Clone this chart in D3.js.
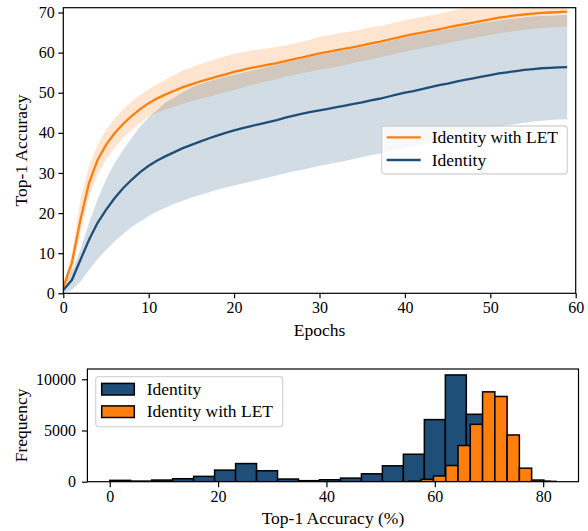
<!DOCTYPE html>
<html lang="en">
<head>
<meta charset="UTF-8" />
<title>Top-1 accuracy</title>
<script src="https://d3js.org/d3.v7.min.js"></script>
<style>
  body { margin: 0; background: #fff; }
  text { font-family: "Liberation Serif", "DejaVu Serif", serif; fill: #000; }
</style>
</head>
<body>
<div id="chart"></div>
<script>
// ---- training curves (mean and band per epoch) ----
const epochs = d3.range(60);

const letMean = [1.5, 7.5, 18.3, 27.4, 33.2, 37.0, 39.9, 42.2, 44.2, 45.9,
  47.4, 48.6, 49.6, 50.5, 51.4, 52.1, 52.8, 53.4, 54.0, 54.6,
  55.2, 55.7, 56.2, 56.6, 57.0, 57.4, 57.9, 58.4, 58.8, 59.3,
  59.8, 60.2, 60.6, 61.0, 61.4, 61.8, 62.3, 62.7, 63.2, 63.7,
  64.2, 64.6, 65.0, 65.4, 65.8, 66.3, 66.7, 67.1, 67.5, 67.9,
  68.3, 68.7, 69.0, 69.3, 69.5, 69.7, 69.9, 70.0, 70.1, 70.2];
const letUpper = [2.5, 10.0, 23.3, 31.6, 37.0, 40.7, 43.6, 45.9, 47.8, 49.5,
  50.9, 52.1, 53.3, 54.4, 55.6, 56.3, 57.1, 57.8, 58.4, 59.1,
  59.7, 60.1, 60.5, 60.8, 61.1, 61.4, 61.8, 62.3, 62.7, 63.3,
  63.9, 64.3, 64.7, 65.1, 65.4, 65.8, 66.3, 66.6, 67.1, 67.6,
  68.1, 68.5, 68.9, 69.3, 69.7, 70.2, 70.6, 71.0, 71.4, 71.8,
  72.2, 72.6, 72.9, 73.2, 73.3, 73.5, 73.7, 73.7, 73.8, 73.9];
const letLower = [0.8, 5.0, 15.0, 24.0, 29.5, 33.3, 36.2, 38.7, 40.7, 42.6,
  44.1, 45.1, 45.9, 46.6, 47.2, 47.9, 48.5, 49.0, 49.6, 50.1,
  50.7, 51.3, 51.9, 52.4, 52.9, 53.4, 54.0, 54.5, 54.9, 55.3,
  55.7, 56.1, 56.5, 56.9, 57.4, 57.8, 58.3, 58.8, 59.3, 59.8,
  60.3, 60.7, 61.1, 61.5, 61.9, 62.4, 62.8, 63.2, 63.6, 64.0,
  64.4, 64.8, 65.1, 65.4, 65.7, 65.9, 66.1, 66.3, 66.4, 66.5];

const idMean = [0.8, 3.3, 8.3, 13.3, 17.5, 20.8, 23.7, 26.2, 28.3, 30.2,
  31.8, 33.1, 34.2, 35.2, 36.2, 37.0, 37.8, 38.6, 39.3, 40.0,
  40.6, 41.2, 41.7, 42.2, 42.7, 43.2, 43.8, 44.3, 44.8, 45.2,
  45.6, 46.0, 46.4, 46.8, 47.2, 47.6, 48.1, 48.5, 49.0, 49.5,
  50.0, 50.4, 50.9, 51.4, 51.9, 52.3, 52.8, 53.2, 53.6, 54.0,
  54.4, 54.8, 55.1, 55.4, 55.7, 55.9, 56.1, 56.2, 56.3, 56.4];
const idUpper = [1.0, 5.5, 10.8, 17.5, 23.3, 28.3, 32.4, 35.7, 38.7, 41.6,
  43.9, 45.7, 47.6, 48.9, 50.2, 51.3, 52.1, 52.8, 53.4, 54.0,
  54.5, 55.0, 55.5, 56.0, 56.5, 57.0, 57.5, 58.0, 58.5, 59.0,
  59.4, 59.8, 60.2, 60.6, 61.0, 61.4, 61.8, 62.3, 62.8, 63.3,
  63.8, 64.2, 64.6, 65.0, 65.4, 65.8, 66.2, 66.6, 67.0, 67.4,
  67.7, 68.0, 68.3, 68.6, 68.8, 69.0, 69.1, 69.2, 69.3, 69.4];
const idLower = [0.0, 0.8, 2.9, 5.8, 8.5, 10.8, 12.9, 14.8, 16.5, 17.9,
  19.3, 20.4, 21.4, 22.3, 23.1, 23.9, 24.5, 25.1, 25.8, 26.4,
  26.9, 27.4, 27.9, 28.4, 28.9, 29.4, 29.9, 30.4, 30.8, 31.3,
  31.8, 32.2, 32.6, 33.0, 33.5, 33.9, 34.4, 34.8, 35.2, 35.7,
  36.2, 36.6, 37.1, 37.6, 38.1, 38.6, 39.1, 39.6, 40.1, 40.6,
  41.1, 41.5, 41.9, 42.2, 42.5, 42.8, 43.0, 43.2, 43.3, 43.4];

const epochTicks = [0, 10, 20, 30, 40, 50, 60];
const accTicks = [0, 10, 20, 30, 40, 50, 60, 70];

// ---- histograms of final accuracy ----
const idRange = [0, 81.3];
const idCounts = [130, 60, 160, 290, 520, 1130, 1770, 1070, 260, 100,
  190, 350, 770, 1550, 2680, 6060, 10420, 6580, 2500, 400, 40];
const letRange = [34.85, 82.4];
const letCounts = [0, 0, 0, 0, 0, 0, 0, 0, 0, 50,
  230, 560, 1580, 3530, 5600, 8770, 8320, 4560, 1320, 160, 30];
const histXTicks = [0, 20, 40, 60, 80];
const freqTicks = [0, 5000, 10000];

const BLUE = '#1f4e79';
const ORANGE = '#ff7f0e';
const TICK_FONT = 16;
const LABEL_FONT = 17.5;

const svg = d3.select('#chart').append('svg')
  .attr('width', 588)
  .attr('height', 531);

const defs = svg.append('defs');

function styleAxis(g) {
  g.select('.domain').remove();
  g.selectAll('.tick line').attr('stroke', '#000').attr('stroke-width', 1.2);
  g.selectAll('.tick text')
    .attr('fill', '#000')
    .style('font-family', '"Liberation Serif", "DejaVu Serif", serif')
    .style('font-size', TICK_FONT + 'px');
}

// ================= top panel =================
const boxA = { left: 63.3, right: 575.7, top: 7.7, bottom: 293.3 };

const x1 = d3.scaleLinear().domain([0, 60]).range([boxA.left, boxA.right]);
const y1 = d3.scaleLinear().domain([0, 71.2]).range([boxA.bottom, boxA.top]);

defs.append('clipPath').attr('id', 'clipTop')
  .append('rect')
    .attr('x', boxA.left).attr('y', boxA.top)
    .attr('width', boxA.right - boxA.left)
    .attr('height', boxA.bottom - boxA.top);

const plot1 = svg.append('g').attr('clip-path', 'url(#clipTop)');

const band = (lo, hi) => d3.area()
  .x(i => x1(epochs[i]))
  .y0(i => y1(lo[i]))
  .y1(i => y1(hi[i]));
const meanLine = vals => d3.line()
  .x(i => x1(epochs[i]))
  .y(i => y1(vals[i]));

const idx = epochs.map((d, i) => i);

plot1.append('path')
  .attr('d', band(letLower, letUpper)(idx))
  .attr('fill', ORANGE).attr('fill-opacity', 0.2);
plot1.append('path')
  .attr('d', meanLine(letMean)(idx))
  .attr('fill', 'none').attr('stroke', ORANGE).attr('stroke-width', 2.3);
plot1.append('path')
  .attr('d', band(idLower, idUpper)(idx))
  .attr('fill', BLUE).attr('fill-opacity', 0.2);
plot1.append('path')
  .attr('d', meanLine(idMean)(idx))
  .attr('fill', 'none').attr('stroke', BLUE).attr('stroke-width', 2.3);

svg.append('g')
  .attr('transform', `translate(0,${boxA.bottom})`)
  .call(d3.axisBottom(x1).tickValues(epochTicks).tickSize(5).tickPadding(3.5).tickSizeOuter(0))
  .call(styleAxis);
svg.append('g')
  .attr('transform', `translate(${boxA.left},0)`)
  .call(d3.axisLeft(y1).tickValues(accTicks).tickSize(5).tickPadding(3.5).tickSizeOuter(0))
  .call(styleAxis);

svg.append('rect')
  .attr('x', boxA.left).attr('y', boxA.top)
  .attr('width', boxA.right - boxA.left).attr('height', boxA.bottom - boxA.top)
  .attr('fill', 'none').attr('stroke', '#000').attr('stroke-width', 1.2);

svg.append('text')
  .attr('x', (boxA.left + boxA.right) / 2).attr('y', 335.5)
  .attr('text-anchor', 'middle').style('font-size', LABEL_FONT + 'px')
  .text('Epochs');
svg.append('text')
  .attr('transform', `translate(27,${(boxA.top + boxA.bottom) / 2}) rotate(-90)`)
  .attr('text-anchor', 'middle').style('font-size', LABEL_FONT + 'px')
  .text('Top-1 Accuracy');

// legend (top)
const leg1 = svg.append('g').attr('transform', 'translate(381.7,126)');
leg1.append('rect')
  .attr('width', 185.6).attr('height', 48).attr('rx', 3)
  .attr('fill', '#fff').attr('fill-opacity', 0.8)
  .attr('stroke', '#cccccc').attr('stroke-opacity', 0.8).attr('stroke-width', 1.3);
[{ label: 'Identity with LET', color: ORANGE }, { label: 'Identity', color: BLUE }]
  .forEach((d, i) => {
    const yy = 11.3 + i * 22.7;
    leg1.append('line')
      .attr('x1', 5).attr('x2', 39).attr('y1', yy).attr('y2', yy)
      .attr('stroke', d.color).attr('stroke-width', 2.3);
    leg1.append('text')
      .attr('x', 50).attr('y', yy).attr('dy', '0.33em')
      .style('font-size', LABEL_FONT + 'px')
      .text(d.label);
  });

// ================= bottom panel =================
const boxB = { left: 87.4, right: 578.5, top: 369, bottom: 481.7 };

const x2 = d3.scaleLinear().domain([-4.12, 86.52]).range([boxB.left, boxB.right]);
const y2 = d3.scaleLinear().domain([0, 11000]).range([boxB.bottom, boxB.top]);

defs.append('clipPath').attr('id', 'clipBot')
  .append('rect')
    .attr('x', boxB.left).attr('y', boxB.top)
    .attr('width', boxB.right - boxB.left)
    .attr('height', boxB.bottom - boxB.top);

function bins(range, counts) {
  const w = (range[1] - range[0]) / counts.length;
  return counts.map((c, i) => ({ x0: range[0] + i * w, x1: range[0] + (i + 1) * w, count: c }));
}

const plot2 = svg.append('g').attr('clip-path', 'url(#clipBot)');

[{ data: bins(idRange, idCounts), color: BLUE },
 { data: bins(letRange, letCounts), color: ORANGE }]
  .forEach(s => {
    plot2.append('g').selectAll('rect')
      .data(s.data)
      .join('rect')
        .attr('x', d => x2(d.x0))
        .attr('width', d => x2(d.x1) - x2(d.x0))
        .attr('y', d => y2(d.count))
        .attr('height', d => y2(0) - y2(d.count))
        .attr('fill', s.color)
        .attr('stroke', '#000')
        .attr('stroke-width', 1.5);
  });

svg.append('g')
  .attr('transform', `translate(0,${boxB.bottom})`)
  .call(d3.axisBottom(x2).tickValues(histXTicks).tickSize(5.5).tickPadding(3.5).tickSizeOuter(0))
  .call(styleAxis);
svg.append('g')
  .attr('transform', `translate(${boxB.left},0)`)
  .call(d3.axisLeft(y2).tickValues(freqTicks).tickFormat(d3.format('d'))
    .tickSize(5.5).tickPadding(5.8).tickSizeOuter(0))
  .call(styleAxis);

svg.append('rect')
  .attr('x', boxB.left).attr('y', boxB.top)
  .attr('width', boxB.right - boxB.left).attr('height', boxB.bottom - boxB.top)
  .attr('fill', 'none').attr('stroke', '#000').attr('stroke-width', 1.2);

svg.append('text')
  .attr('x', (boxB.left + boxB.right) / 2).attr('y', 524)
  .attr('text-anchor', 'middle').style('font-size', LABEL_FONT + 'px')
  .text('Top-1 Accuracy (%)');
svg.append('text')
  .attr('transform', `translate(27,${(boxB.top + boxB.bottom) / 2}) rotate(-90)`)
  .attr('text-anchor', 'middle').style('font-size', LABEL_FONT + 'px')
  .text('Frequency');

// legend (bottom)
const leg2 = svg.append('g').attr('transform', 'translate(95.7,376.7)');
leg2.append('rect')
  .attr('width', 187).attr('height', 50).attr('rx', 3)
  .attr('fill', '#fff').attr('fill-opacity', 0.8)
  .attr('stroke', '#cccccc').attr('stroke-opacity', 0.8).attr('stroke-width', 1.3);
[{ label: 'Identity', color: BLUE }, { label: 'Identity with LET', color: ORANGE }]
  .forEach((d, i) => {
    const yy = 12.5 + i * 22.5;
    leg2.append('rect')
      .attr('x', 6).attr('y', yy - 5.8).attr('width', 32.6).attr('height', 11.6)
      .attr('fill', d.color).attr('stroke', '#000').attr('stroke-width', 1.5);
    leg2.append('text')
      .attr('x', 51).attr('y', yy).attr('dy', '0.33em')
      .style('font-size', LABEL_FONT + 'px')
      .text(d.label);
  });
</script>
</body>
</html>
